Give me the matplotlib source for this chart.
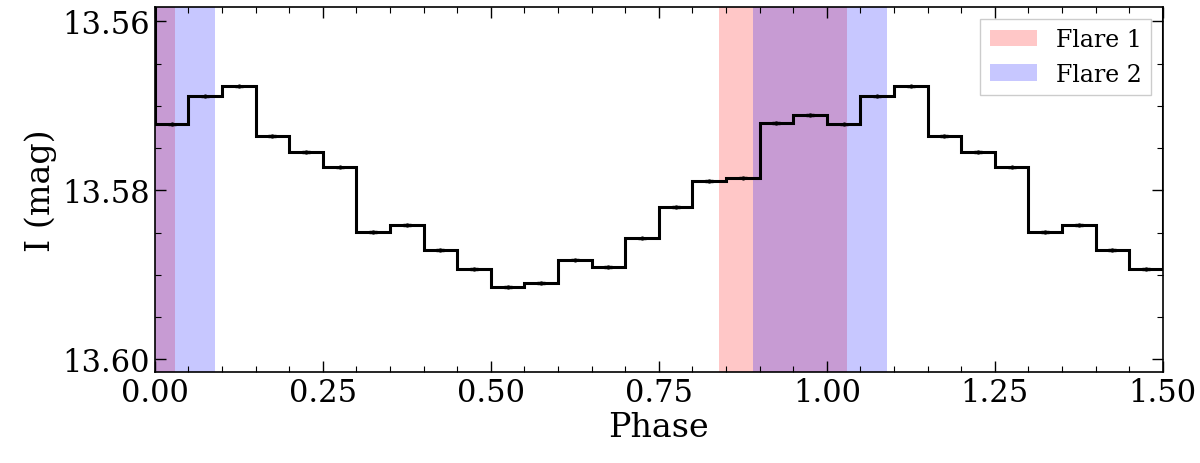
import numpy as np
import matplotlib
matplotlib.use("Agg")
import matplotlib.pyplot as plt

plt.rcParams['font.family'] = 'serif'
plt.rcParams['font.serif'] = ['DejaVu Serif']
plt.rcParams['mathtext.fontset'] = 'cm'

# binned light curve, one cycle (20 bins of 0.05 in phase)
cycle_mag = [13.5722, 13.5689, 13.5677, 13.5736, 13.5755, 13.5773, 13.5849, 13.5841,
             13.5871, 13.5893, 13.5914, 13.5910, 13.5882, 13.5891, 13.5857, 13.5820,
             13.5789, 13.5785, 13.5720, 13.5711]
bin_width = 0.05
flare1 = (0.84, 1.03)
flare2 = (0.89, 1.09)

mag = np.array(cycle_mag + cycle_mag[:10])
centers = np.arange(len(mag)) * bin_width + bin_width / 2
edges = np.arange(len(mag) + 1) * bin_width

fig = plt.figure(figsize=(12, 4.64), dpi=100)
ax = fig.add_axes([0.129, 0.196, 0.84, 0.787])

ax.axvspan(*flare1, color='red', alpha=0.22, lw=0, label='Flare 1')
ax.axvspan(flare1[0] - 1, flare1[1] - 1, color='red', alpha=0.22, lw=0)
ax.axvspan(*flare2, color='blue', alpha=0.22, lw=0, label='Flare 2')
ax.axvspan(flare2[0] - 1, flare2[1] - 1, color='blue', alpha=0.22, lw=0)

ax.stairs(mag, edges, color='black', lw=2.2)
ax.errorbar(centers, mag, yerr=0.0001, fmt='o', ms=2, color='black', capsize=3, lw=1)

ax.set_xlim(0, 1.5)
ax.set_ylim(13.6015, 13.5583)
ax.set_xticks([0, 0.25, 0.5, 0.75, 1.0, 1.25, 1.5])
ax.set_yticks([13.56, 13.58, 13.60])
ax.set_xticklabels(['0.00', '0.25', '0.50', '0.75', '1.00', '1.25', '1.50'])
ax.set_yticklabels(['13.56', '13.58', '13.60'])
ax.minorticks_on()
ax.tick_params(which='both', direction='in', top=True, right=True, labelsize=22)
ax.tick_params(which='major', length=8, width=1)
ax.tick_params(which='minor', length=4, width=0.8)
for s in ax.spines.values():
    s.set_linewidth(1.2)
ax.set_xlabel('Phase', fontsize=24, labelpad=2)
ax.set_ylabel('I (mag)', fontsize=24)
ax.legend(loc='upper right', fontsize=17, framealpha=1, edgecolor='#cccccc', fancybox=False)

fig.savefig('out.png', dpi=100)
